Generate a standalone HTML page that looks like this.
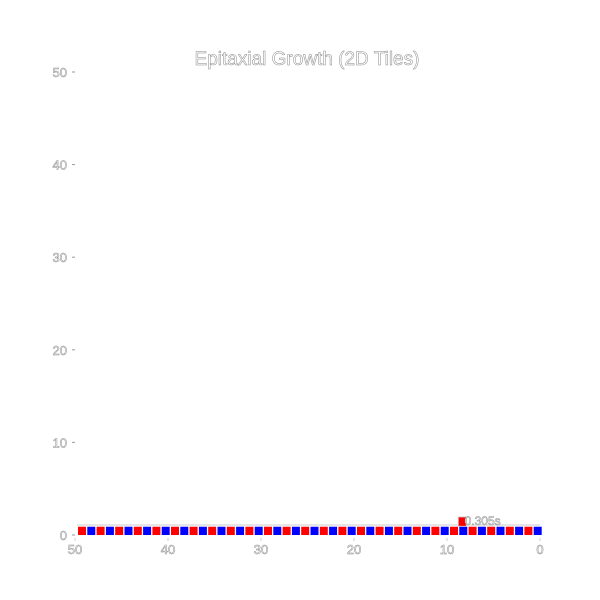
<!DOCTYPE html>
<html><head><meta charset="utf-8"><style>
html,body{margin:0;padding:0;background:#fff;width:600px;height:600px;overflow:hidden}
text{font-family:"Liberation Sans","DejaVu Sans",sans-serif;fill:#fff;stroke:#8a8a8a;stroke-width:0.5px}
</style></head><body>
<svg id="chart" width="600" height="600">
<text x="307" y="65" font-size="19" text-anchor="middle">Epitaxial Growth (2D Tiles)</text>
<g id="axes"></g><g id="tiles"></g>
</svg>
<script>
const xTicks=[50,40,30,20,10,0];
const yTicks=[0,10,20,30,40,50];
const baseCount=50;
const tileColors=["red","blue"];
const extraTileX=[8];
const extraTileY=[1];
const extraLabel=["0.305s"];
const X=v=>540-(v/50)*465;
const Y=v=>535-(v/50)*463;
const NS="http://www.w3.org/2000/svg";
const axes=document.getElementById('axes'),tiles=document.getElementById('tiles');
function mk(t,a,p){const e=document.createElementNS(NS,t);for(const k in a)e.setAttribute(k,a[k]);p.appendChild(e);return e;}
xTicks.forEach(v=>{
 const t=mk('text',{x:X(v),y:554,'font-size':13,'text-anchor':'middle'},axes);t.textContent=v;
 
 
 const l=mk('line',{x1:X(v),x2:X(v),y1:538,y2:541,stroke:'#ccc'},axes);
 
 
});
yTicks.forEach(v=>{
 const t=mk('text',{x:67,y:Y(v)+5,'font-size':13,'text-anchor':'end'},axes);t.textContent=v;
 
 
 const l=mk('line',{x1:72,x2:75,y1:Y(v),y2:Y(v),stroke:'#999'},axes);
 
 
});
mk('line',{x1:77,x2:540,y1:525,y2:525,stroke:'#ccc'},axes);
for(let i=0;i<baseCount;i++){
 const v=baseCount-1-i;
 const r=mk('rect',{x:X(v+1)+3,y:Y(1)+1,width:X(v)-X(v+1)-1.3,height:Y(0)-Y(1)-1,fill:tileColors[i%2]},tiles);
 
 
}
extraTileX.forEach((v,i)=>{
 const yy=extraTileY[i];
 const r=mk('rect',{x:X(v+1)+2,y:Y(yy+1)+0.5,width:X(v)-X(v+1)-1.3,height:Y(yy)-Y(yy+1),fill:'red',stroke:'#ccc','stroke-width':0.8},tiles);
 
 
 const t=mk('text',{x:X(v)-1,y:Y(yy)-0.5,'font-size':12,'fill':'none'},tiles);t.textContent=extraLabel[i];
 
 
});
</script>
</body></html>
